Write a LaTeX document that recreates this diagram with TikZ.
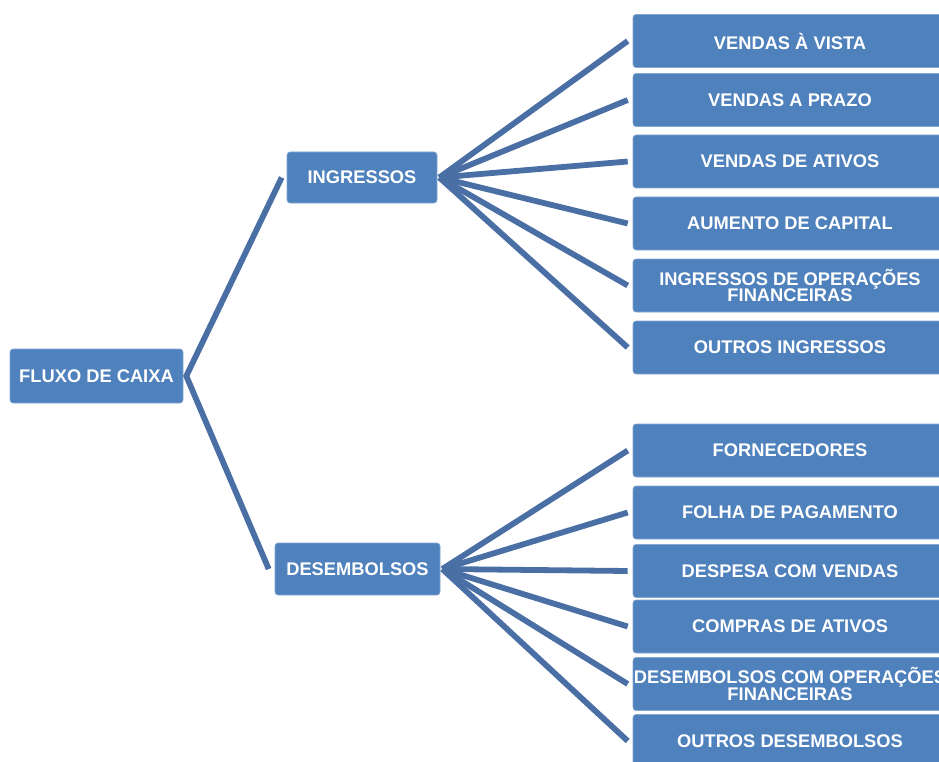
\documentclass[tikz,border=0pt]{standalone}
\usepackage{fontspec}
\setmainfont{Liberation Sans}
\definecolor{boxblue}{HTML}{4F81BD}
\definecolor{lineblue}{HTML}{4A6FA5}
\begin{document}
\begin{tikzpicture}[x=1pt,y=-1pt,
  box/.style={fill=boxblue,draw=boxblue!70!white,line width=0.6pt,rounded corners=3pt,
    text=white,font=\fontsize{18.3}{16.8}\selectfont\bfseries,align=center,inner sep=0pt},
  leaf/.style={box,minimum width=314pt,minimum height=53pt},
  conn/.style={draw=lineblue,line width=5.8pt}]
\clip (0,0) rectangle (939,762);
\fill[white] (0,0) rectangle (939,762);
\node[box,minimum width=173pt,minimum height=54pt] (fc) at (96.5,376) {FLUXO DE CAIXA};
\node[box,minimum width=150pt,minimum height=51pt] (ing) at (362,177.5) {INGRESSOS};
\node[box,minimum width=165pt,minimum height=52pt] (des) at (357.5,569) {DESEMBOLSOS};
\node[leaf] (i1) at (790,41) {VENDAS À VISTA};
\node[leaf] (i2) at (790,100) {VENDAS A PRAZO};
\node[leaf] (i3) at (790,161.5) {VENDAS DE ATIVOS};
\node[leaf] (i4) at (790,223.5) {AUMENTO DE CAPITAL};
\node[leaf] (i5) at (790,285.5) {INGRESSOS DE OPERAÇÕES\\FINANCEIRAS};
\node[leaf] (i6) at (790,347.5) {OUTROS INGRESSOS};
\node[leaf] (d1) at (790,450.5) {FORNECEDORES};
\node[leaf] (d2) at (790,512.5) {FOLHA DE PAGAMENTO};
\node[leaf] (d3) at (790,571) {DESPESA COM VENDAS};
\node[leaf] (d4) at (790,626.5) {COMPRAS DE ATIVOS};
\node[leaf] (d5) at (790,684) {DESEMBOLSOS COM OPERAÇÕES\\FINANCEIRAS};
\node[leaf] (d6) at (790,741) {OUTROS DESEMBOLSOS};
\draw[conn] ([xshift=-5pt]ing.west) -- ([xshift=3pt]fc.east) -- ([xshift=-6pt]des.west);
\foreach \n in {i1,i2,i3,i4,i5,i6}
  \draw[conn] ([xshift=2pt]ing.east) -- ([xshift=-5pt]\n.west);
\foreach \n in {d1,d2,d3,d4,d5,d6}
  \draw[conn] ([xshift=2pt]des.east) -- ([xshift=-5pt]\n.west);
\end{tikzpicture}
\end{document}
